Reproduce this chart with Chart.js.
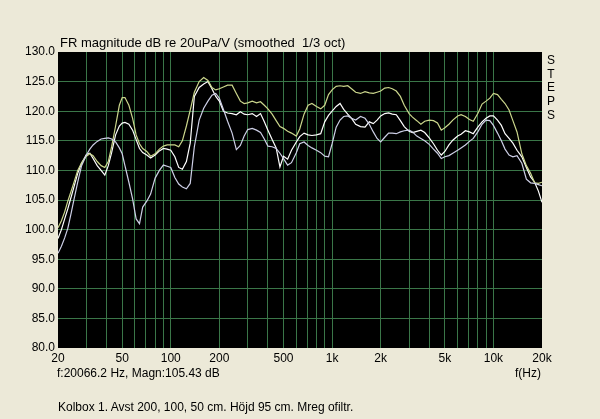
<!DOCTYPE html>
<html>
<head>
<meta charset="utf-8">
<script src="https://cdn.jsdelivr.net/npm/chart.js@4"></script>
<style>
  body { margin: 0; background: #ece9d8; }
  #wrap { position: relative; width: 600px; height: 419px; font-family: "Liberation Sans", Arial, sans-serif; color: #000; }
  #wrap div { position: absolute; white-space: pre; font-size: 12px; line-height: 14px; }
  #title { left: 60px; top: 35px; font-size: 13px !important; line-height: 15px !important; }
  #steps { left: 546px; top: 54px; width: 10px; text-align: center; line-height: 13.7px !important; }
</style>
</head>
<body>
<div id="wrap">
  <canvas id="fr" width="600" height="419"></canvas>
  <div id="title">FR magnitude dB re 20uPa/V (smoothed  1/3 oct)</div>
  <div id="steps">S<br>T<br>E<br>P<br>S</div>
  <div id="cursor" style="left:57px;top:366px;">f:20066.2 Hz, Magn:105.43 dB</div>
  <div id="funit" style="left:515px;top:366px;">f(Hz)</div>
  <div id="note" style="left:58px;top:400px;">Kolbox 1. Avst 200, 100, 50 cm. Höjd 95 cm. Mreg ofiltr.</div>
</div>
<script>
// frequency points (Hz), shared by all three curves
const freqs = [20, 21, 22, 23, 24, 25, 26.5, 28, 30, 31.5, 33, 35, 37, 39, 41, 43, 45.5, 48, 50, 52,
  55, 58, 61, 64, 67, 71, 75, 80, 85, 90, 95, 100, 106, 112, 118, 125, 132, 140, 150, 160,
  170, 180, 190, 200, 212, 225, 240, 255, 270, 285, 300, 320, 340, 360, 380, 400, 425, 450, 475, 500,
  530, 560, 600, 630, 670, 710, 750, 800, 850, 900, 950, 1000, 1060, 1120, 1180, 1250, 1320, 1400, 1500, 1600,
  1700, 1800, 1900, 2000, 2120, 2240, 2360, 2500, 2650, 2800, 3000, 3150, 3350, 3550, 3750, 4000, 4250, 4500, 4750, 5000,
  5300, 5600, 6000, 6300, 6700, 7100, 7500, 8000, 8500, 9000, 9500, 10000, 10600, 11200, 11800, 12500, 13200, 14000, 15000, 16000,
  17000, 18000, 19000, 20000];

// yellow-green curve
const curveA = [100.3, 101.5, 103, 104.8, 106.3, 107.8, 110, 111.3, 112.4, 112.8, 112.5, 111.5, 110.8, 110.5, 111.5, 114, 117.5, 121, 122.3, 122.3,
  121, 118.8, 116, 114.5, 113.7, 113.2, 112.4, 112.8, 113.6, 114.1, 114.3, 114.3, 114.3, 114, 115, 117.5, 120.2, 123.2, 125, 125.7,
  125.2, 124, 123.6, 123.8, 124.1, 124.4, 124.4, 123, 121.7, 121.3, 121.4, 121.7, 121.4, 121.6, 121, 120.4, 119.5, 118.4, 117.4, 117.1,
  116.6, 116.3, 115.8, 117, 119.5, 121, 121.3, 120.8, 120.4, 121, 122.8, 123.6, 124.2, 124.3, 124.2, 124.3, 123.8, 123.2, 123, 123.3,
  123.1, 123, 123.2, 123.4, 123.9, 124, 123.8, 123.4, 122.5, 121, 119.6, 119, 118.4, 117.8, 118.3, 118.5, 118.4, 118, 116.8, 117.2,
  117.8, 118.5, 119.2, 119.4, 119.1, 118.6, 118.3, 119.6, 121.2, 121.7, 122.2, 123, 122.8, 122, 121.3, 120.2, 118.4, 116.5, 112.8, 110.8,
  109.5, 107.9, 107.8, 108];

// white curve
const curveB = [98.5, 100, 101.8, 103.5, 105.3, 107, 109.5, 111.2, 112.7, 112.9, 112, 110.8, 110, 109.2, 110.8, 113, 116, 117.5, 118, 118.1,
  117.8, 116.8, 115.2, 113.7, 113, 112.6, 112.1, 112.6, 113.3, 113.7, 113.6, 113.4, 112.3, 110.5, 110.2, 111.5, 114.6, 122.5, 124, 124.6,
  125, 123.8, 122.5, 121.7, 120, 119.7, 119.6, 119.4, 119.9, 119.5, 119.4, 119.6, 119.1, 119.6, 118.2, 116.8, 115.2, 113.8, 110.6, 112.4,
  111.9, 113.4, 114.8, 115.7, 116.3, 116, 115.9, 116, 116.2, 118.2, 119.3, 120, 120.8, 121.3, 120.3, 119.5, 118.8, 117.8, 117.4, 117.3,
  118.2, 117.9, 118.5, 119.2, 119.6, 119.7, 119.5, 119.4, 118.4, 117.4, 116.6, 116.4, 116.6, 116.8, 116.4, 115.5, 114.5, 113.4, 112.6, 113.2,
  114.3, 115.1, 115.8, 116.1, 116.7, 116.5, 116.2, 117.3, 118.2, 118.8, 119.2, 119.2, 118.5, 117.6, 116.2, 115.4, 114.6, 113.4, 112.3, 110.5,
  108.9, 108, 106.5, 104.6];

// lavender curve
const curveC = [96, 97.2, 98.6, 100.2, 102.5, 104.8, 108, 110.8, 112.6, 113.6, 114.3, 114.9, 115.3, 115.4, 115.5, 115.3, 114.8, 113.8, 112.8, 110.8,
  108, 105.2, 101.8, 101, 103.8, 104.8, 106, 108.7, 110, 110.9, 110.7, 110.5, 108.8, 107.7, 107.2, 106.9, 107.8, 114, 118.5, 120.5,
  121.7, 122.7, 123, 122.2, 120.3, 118.3, 116.3, 113.5, 114.2, 115.8, 116.9, 117.1, 116.8, 116.4, 115.3, 114.1, 114, 113.7, 112.9, 112,
  110.9, 111.3, 113, 114.5, 114.8, 114.2, 113.8, 113.4, 113, 112.4, 112.3, 114.5, 117.3, 118.5, 119.1, 119.2, 118.8, 118.5, 119.1, 118.8,
  117.8, 116.5, 115.4, 114.8, 115.6, 116.3, 116.3, 116.2, 116.5, 116.7, 116.8, 116.5, 115.8, 115.4, 115, 114.4, 113.6, 112.9, 112, 112.3,
  112.5, 112.9, 113.4, 113.8, 114.3, 114.9, 115.4, 116.5, 117.8, 118.5, 118.4, 117.6, 116.3, 115, 113.6, 112.6, 112.3, 112.5, 111.2, 108.5,
  107.9, 107.8, 107.6, 107.4];

// vertical grid positions and which of them get a label
const gridFreqs = [20, 30, 40, 50, 60, 70, 80, 90, 100, 200, 300, 400, 500, 600, 700, 800, 900,
  1000, 2000, 3000, 4000, 5000, 6000, 7000, 8000, 9000, 10000, 20000];
const freqLabels = { 20: "20", 50: "50", 100: "100", 200: "200", 500: "500", 1000: "1k",
  2000: "2k", 5000: "5k", 10000: "10k", 20000: "20k" };

const toPoints = (vals) => freqs.map((f, i) => ({ x: f, y: vals[i] }));

// black plot area
const plotBg = {
  id: "plotBg",
  beforeDraw(chart) {
    const a = chart.chartArea;
    const ctx = chart.ctx;
    ctx.save();
    ctx.fillStyle = "#000";
    ctx.fillRect(a.left, a.top, a.right - a.left, a.bottom - a.top);
    ctx.restore();
  }
};

const gridGreen = "rgb(58,118,72)";
const font = { family: "'Liberation Sans', Arial, sans-serif", size: 12 };

new Chart(document.getElementById("fr"), {
  type: "line",
  data: {
    datasets: [
      { data: toPoints(curveC), borderColor: "#cdcfe6", borderWidth: 1.2 },
      { data: toPoints(curveA), borderColor: "#cbd68c", borderWidth: 1.2 },
      { data: toPoints(curveB), borderColor: "#ffffff", borderWidth: 1.2 }
    ]
  },
  options: {
    responsive: false,
    animation: false,
    devicePixelRatio: 1,
    layout: { padding: { top: 52, right: 58, left: 0, bottom: 0 } },
    elements: { point: { radius: 0 }, line: { tension: 0 } },
    plugins: { legend: { display: false }, tooltip: { enabled: false } },
    scales: {
      x: {
        type: "logarithmic",
        min: 20,
        max: 20000,
        afterBuildTicks: (scale) => { scale.ticks = gridFreqs.map((v) => ({ value: v })); },
        afterFit: (scale) => { scale.height = 71; },
        ticks: {
          autoSkip: false,
          maxRotation: 0,
          padding: 3,
          color: "#000",
          font: font,
          callback: (v) => freqLabels[v] || ""
        },
        grid: {
          drawTicks: false,
          color: (ctx) => (ctx.tick && (ctx.tick.value === 20 || ctx.tick.value === 20000)) ? "rgba(0,0,0,0)" : gridGreen
        },
        border: { display: false }
      },
      y: {
        min: 80,
        max: 130,
        afterFit: (scale) => { scale.width = 58; },
        ticks: {
          stepSize: 5,
          padding: 3,
          color: "#000",
          font: font,
          callback: (v) => v.toFixed(1)
        },
        grid: {
          drawTicks: false,
          color: (ctx) => (ctx.tick && (ctx.tick.value === 80 || ctx.tick.value === 130)) ? "rgba(0,0,0,0)" : gridGreen
        },
        border: { display: false }
      }
    }
  },
  plugins: [plotBg]
});
</script>
</body>
</html>
